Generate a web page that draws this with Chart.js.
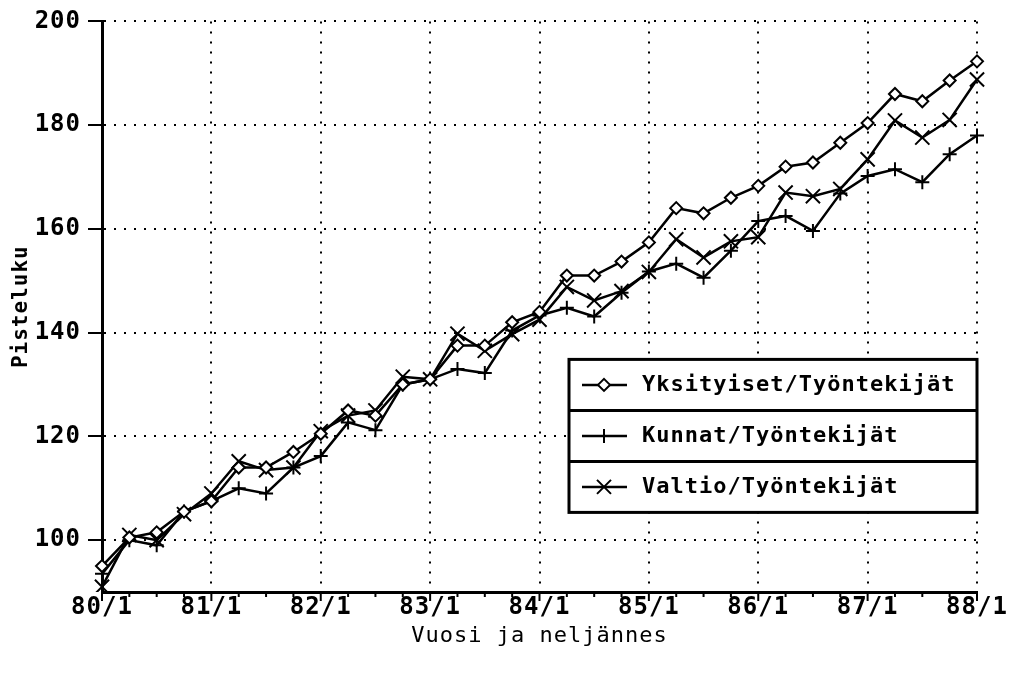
<!DOCTYPE html>
<html lang="fi">
<head>
  <meta charset="UTF-8">
  <title>Pisteluku</title>
  <script src="https://cdn.jsdelivr.net/npm/chart.js"></script>
  <style>
    body { margin: 0; background: #ffffff; }
    canvas { display: block; }
  </style>
</head>
<body>
  <canvas id="chart" width="1009" height="677"></canvas>

  <script>
    const quarters = [
      '80/1', '80/2', '80/3', '80/4', '81/1', '81/2', '81/3', '81/4',
      '82/1', '82/2', '82/3', '82/4', '83/1', '83/2', '83/3', '83/4',
      '84/1', '84/2', '84/3', '84/4', '85/1', '85/2', '85/3', '85/4',
      '86/1', '86/2', '86/3', '86/4', '87/1', '87/2', '87/3', '87/4',
      '88/1'
    ];

    const yksityiset = [
      95, 100.5, 101.5, 105.5, 107.5, 114, 114, 117,
      120.5, 125, 124, 130, 131, 137.5, 137.5, 142,
      144, 151, 151, 153.7, 157.4, 164, 163, 166,
      168.3, 172, 172.8, 176.6, 180.4, 186, 184.6, 188.6,
      192.3
    ];
    const kunnat = [
      93.5, 100, 99, 105.5, 107.5, 110, 109, 114,
      116.2, 122.7, 121.2, 130, 131, 133, 132.2, 140.4,
      143.3, 144.8, 143.1, 147.7, 151.8, 153.3, 150.6, 155.8,
      161.5, 162.5, 159.6, 166.8, 170.2, 171.5, 169, 174.4,
      178
    ];
    const valtio = [
      91, 101, 100, 105, 109, 115.2, 113.5, 114,
      121, 124, 125, 131.5, 131, 139.8, 136.5, 139.7,
      142.5, 148.8, 146.2, 148, 151.7, 158, 154.5, 157.6,
      158.4, 167, 166.3, 167.7, 173.4, 180.9, 177.6, 181,
      188.8
    ];

    const seriesNames = ['Yksityiset/Työntekijät', 'Kunnat/Työntekijät', 'Valtio/Työntekijät'];
    const yTicks = [100, 120, 140, 160, 180, 200];

    const FONT = "'DejaVu Sans Mono', monospace";

    function series(label, data, style, radius) {
      return {
        label: label,
        data: data,
        borderColor: '#000',
        borderWidth: 2.5,
        fill: false,
        tension: 0,
        pointStyle: style,
        pointRadius: radius,
        pointBorderWidth: 2,
        pointBorderColor: '#000',
        pointBackgroundColor: '#fff'
      };
    }

    // legend marker, drawn by hand so the boxed legend matches the original
    function drawMarker(ctx, style, x, y) {
      ctx.beginPath();
      if (style === 'rectRot') {
        ctx.moveTo(x, y - 6); ctx.lineTo(x + 6, y); ctx.lineTo(x, y + 6); ctx.lineTo(x - 6, y);
        ctx.closePath();
        ctx.fillStyle = '#fff';
        ctx.fill();
      } else if (style === 'cross') {
        ctx.moveTo(x - 7, y); ctx.lineTo(x + 7, y);
        ctx.moveTo(x, y - 7); ctx.lineTo(x, y + 7);
      } else {
        ctx.moveTo(x - 7, y - 7); ctx.lineTo(x + 7, y + 7);
        ctx.moveTo(x + 7, y - 7); ctx.lineTo(x - 7, y + 7);
      }
      ctx.stroke();
    }

    const extras = {
      id: 'extras',
      beforeUpdate(chart) { chart.ctx.letterSpacing = '1px'; },
      beforeDraw(chart) { chart.ctx.letterSpacing = '1px'; },
      afterDraw(chart) {
        const ctx = chart.ctx;
        const a = chart.chartArea;
        const x = chart.scales.x;
        ctx.save();
        ctx.strokeStyle = '#000';

        // quarter tick marks under the axis
        ctx.lineWidth = 2;
        quarters.forEach((q, i) => {
          const px = x.getPixelForValue(i);
          const len = i % 4 === 0 ? 9 : 5;
          ctx.beginPath();
          ctx.moveTo(px, a.bottom);
          ctx.lineTo(px, a.bottom + len);
          ctx.stroke();
        });

        // boxed legend
        const left = a.right - 408;
        const top = a.top + 338;
        const rowH = 51;
        ctx.fillStyle = '#fff';
        ctx.fillRect(left, top, a.right - left, rowH * 3);
        ctx.lineWidth = 3;
        ctx.strokeRect(left, top, a.right - left, rowH * 3);
        for (let r = 1; r < 3; r++) {
          ctx.beginPath();
          ctx.moveTo(left, top + r * rowH);
          ctx.lineTo(a.right, top + r * rowH);
          ctx.stroke();
        }
        chart.data.datasets.forEach((ds, r) => {
          const cy = top + r * rowH + rowH / 2;
          ctx.lineWidth = 2.5;
          ctx.beginPath();
          ctx.moveTo(left + 13, cy);
          ctx.lineTo(left + 58, cy);
          ctx.stroke();
          ctx.lineWidth = 2;
          drawMarker(ctx, ds.pointStyle, left + 35, cy);
          ctx.fillStyle = '#000';
          ctx.font = 'bold 22px ' + FONT;
          ctx.textAlign = 'left';
          ctx.textBaseline = 'middle';
          ctx.fillText(ds.label, left + 73, cy);
        });
        ctx.restore();
      }
    };

    const ctx = document.getElementById('chart').getContext('2d');

    new Chart(ctx, {
      type: 'line',
      data: {
        labels: quarters,
        datasets: [
          series(seriesNames[0], yksityiset, 'rectRot', 6),
          series(seriesNames[1], kunnat, 'cross', 7),
          series(seriesNames[2], valtio, 'crossRot', 10)
        ]
      },
      options: {
        responsive: false,
        animation: false,
        layout: { padding: { left: 0, right: 32, top: 20, bottom: 0 } },
        plugins: {
          legend: { display: false },
          tooltip: { enabled: false }
        },
        scales: {
          x: {
            type: 'category',
            afterBuildTicks: scale => {
              scale.ticks = scale.ticks.filter(t => t.value % 4 === 0);
            },
            afterFit: scale => { scale.height = 85; },
            grid: {
              color: '#000',
              lineWidth: 2,
              drawTicks: false,
              borderDash: [2, 8]
            },
            border: { display: true, color: '#000', width: 3, dash: [2, 8] },
            ticks: {
              autoSkip: false,
              maxRotation: 0,
              padding: 1,
              color: '#000',
              font: { family: FONT, size: 24, weight: 'bold' }
            },
            title: {
              display: true,
              text: 'Vuosi ja neljännes',
              color: '#000',
              padding: { top: 0, bottom: 28 },
              font: { family: FONT, size: 22 }
            }
          },
          y: {
            min: 90,
            max: 200,
            afterBuildTicks: scale => {
              scale.ticks = yTicks.map(v => ({ value: v }));
            },
            afterFit: scale => { scale.width = 102; },
            grid: {
              color: '#000',
              lineWidth: 2,
              drawTicks: true,
              tickLength: 14,
              tickWidth: 2,
              tickColor: '#000',
              borderDash: [2, 8]
            },
            border: { display: true, color: '#000', width: 3, dash: [2, 8] },
            ticks: {
              padding: 7,
              color: '#000',
              font: { family: FONT, size: 24, weight: 'bold' }
            },
            title: {
              display: true,
              text: 'Pisteluku',
              color: '#000',
              padding: { top: 9, bottom: 0 },
              font: { family: FONT, size: 21, weight: 'bold' }
            }
          }
        }
      },
      plugins: [extras]
    });
  </script>
</body>
</html>
